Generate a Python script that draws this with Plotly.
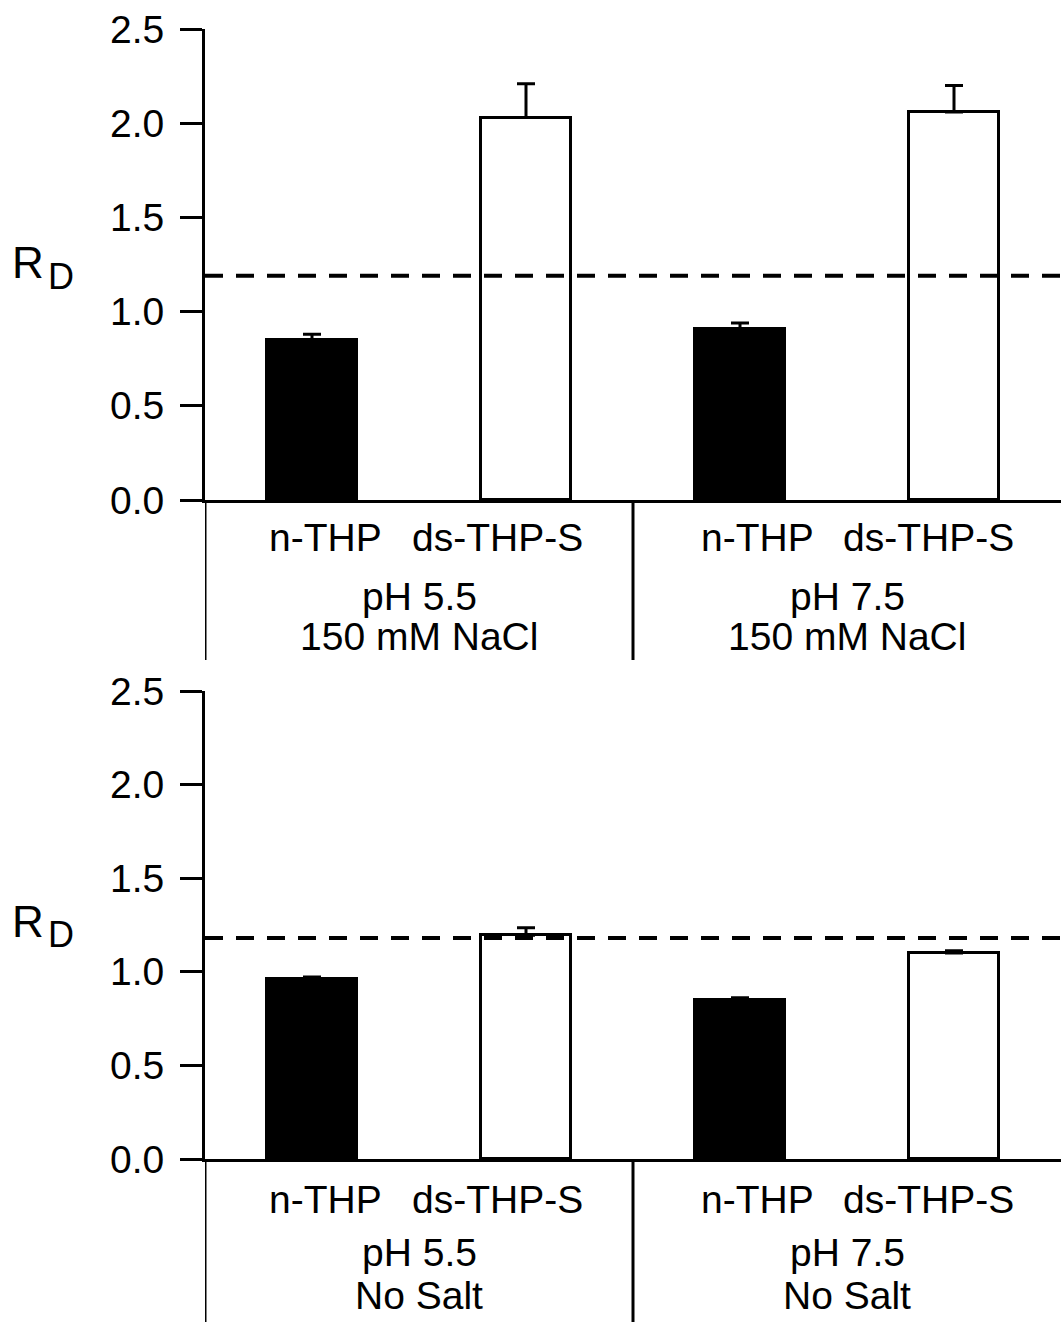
import plotly.graph_objects as go

W, H = 1061, 1322

# ---- data ----
proteins = ["n-THP", "ds-THP-S"]
conditions_top = ["pH 5.5", "pH 7.5"]
salt_top = "150 mM NaCl"
salt_bottom = "No Salt"
xpos = [0.5, 1.5, 2.5, 3.5]
top_values = [0.85, 2.03, 0.91, 2.06]
top_errors = [0.03, 0.18, 0.03, 0.14]
bottom_values = [0.96, 1.195, 0.85, 1.10]
bottom_errors = [0.012, 0.04, 0.012, 0.012]
thresholds = [1.19, 1.18]
yticks = [0.0, 0.5, 1.0, 1.5, 2.0, 2.5]
bar_colors = ["black", "white", "black", "white"]

FONT = "Arial, Liberation Sans, sans-serif"
FS = 39

def py(p):  # pixel y -> paper
    return 1 - p / H

def px(p):
    return p / W

fig = go.Figure()

panels = [
    dict(vals=top_values, errs=top_errors, xa="x", ya="y", dom=[py(500), py(29)], thr=thresholds[0],
         salt=salt_top, lab_y=[537, 596, 636], rd_y=263, ext=160 / 471),
    dict(vals=bottom_values, errs=bottom_errors, xa="x2", ya="y2", dom=[py(1159), py(691)], thr=thresholds[1],
         salt=salt_bottom, lab_y=[1199, 1252, 1295], rd_y=921, ext=163 / 468),
]

shapes = []
annotations = []
for i, p in enumerate(panels):
    fig.add_trace(go.Bar(
        x=xpos, y=p["vals"], width=0.42, xaxis=p["xa"], yaxis=p["ya"],
        marker=dict(color=bar_colors, line=dict(color="black", width=3)),
        error_y=dict(type="data", array=p["errs"], arrayminus=[0] * 4, symmetric=False,
                     color="black", thickness=3, width=9),
        showlegend=False,
    ))
    xref = p["xa"]
    yd = "y domain" if i == 0 else "y2 domain"
    # dashed reference line
    shapes.append(dict(type="line", xref=xref + " domain", yref=p["ya"], x0=0, x1=1,
                       y0=p["thr"], y1=p["thr"], line=dict(color="black", width=4, dash="18px,13px")))
    # separator lines below the axis
    for xs in [0, 2]:
        shapes.append(dict(type="line", xref=xref, yref=yd, x0=xs, x1=xs, y0=0, y1=-p["ext"],
                           line=dict(color="black", width=3)))
    # category labels
    lab_x = [0.565, 1.365, 2.583, 3.38]
    for j, lx in enumerate(lab_x):
        annotations.append(dict(x=lx, y=py(p["lab_y"][0]), xref=xref, yref="paper",
                                text=proteins[j % 2], showarrow=False,
                                font=dict(size=FS, color="black", family=FONT),
                                xanchor="center", yanchor="middle"))
    for g, gx in enumerate([1.0, 3.0]):
        annotations.append(dict(x=gx, y=py(p["lab_y"][1]), xref=xref, yref="paper",
                                text=conditions_top[g], showarrow=False,
                                font=dict(size=FS, color="black", family=FONT),
                                xanchor="center", yanchor="middle"))
        annotations.append(dict(x=gx, y=py(p["lab_y"][2]), xref=xref, yref="paper",
                                text=p["salt"], showarrow=False,
                                font=dict(size=FS, color="black", family=FONT),
                                xanchor="center", yanchor="middle"))
    # R_D label
    annotations.append(dict(x=px(28), y=py(p["rd_y"]), xref="paper", yref="paper", text="R",
                            showarrow=False, font=dict(size=44, color="black", family=FONT),
                            xanchor="center", yanchor="middle"))
    annotations.append(dict(x=px(61), y=py(p["rd_y"] + 13), xref="paper", yref="paper", text="D",
                            showarrow=False, font=dict(size=36, color="black", family=FONT),
                            xanchor="center", yanchor="middle"))

xcommon = dict(range=[0, 4], domain=[px(205), 1], showline=True, linecolor="black", linewidth=3,
               ticks="", showticklabels=False, showgrid=False, zeroline=False, fixedrange=True,
               automargin=False)
ycommon = dict(range=[0, 2.5], tickvals=yticks, tickformat=".1f", showline=True, linecolor="black",
               linewidth=3, ticks="outside", ticklen=22, tickwidth=3, tickcolor="black",
               tickfont=dict(size=FS, color="black", family=FONT), showgrid=False, zeroline=False,
               ticklabelstandoff=8, automargin=False)

fig.update_layout(
    width=W, height=H, margin=dict(l=0, r=0, t=0, b=0, pad=0), autosize=False,
    paper_bgcolor="white", plot_bgcolor="white", bargap=0,
    xaxis=dict(**xcommon, anchor="y"),
    yaxis=dict(**ycommon, domain=panels[0]["dom"], anchor="x"),
    xaxis2=dict(**xcommon, anchor="y2"),
    yaxis2=dict(**ycommon, domain=panels[1]["dom"], anchor="x2"),
    shapes=shapes, annotations=annotations,
    font=dict(family=FONT, color="black"),
)

fig.write_html("out.html", config={"displayModeBar": False},
               post_script="document.body.style.margin='0px';")
